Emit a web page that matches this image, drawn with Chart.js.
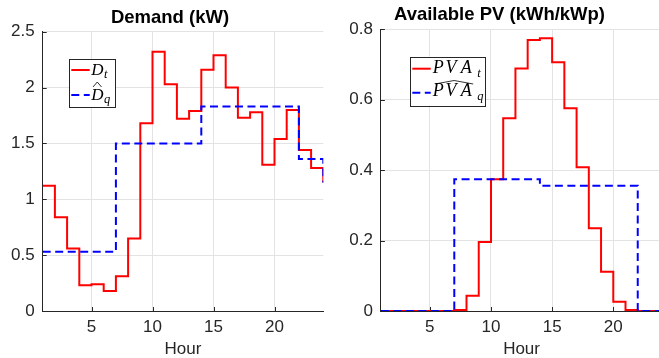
<!DOCTYPE html>
<html>
<head>
<meta charset="utf-8">
<script src="https://cdn.jsdelivr.net/npm/chart.js@4.4.0/dist/chart.umd.min.js"></script>
<style>
  html, body { margin: 0; padding: 0; background: #fff; overflow: hidden; width: 659px; height: 358px; }
  #wrap { position: relative; width: 659px; height: 358px; overflow: hidden; }
  canvas { position: absolute; top: 0; }
  #demandChart { left: 0; }
  #pvChart { left: 330px; }
</style>
</head>
<body>
<div id="wrap">
  <canvas id="demandChart" width="335" height="358"></canvas>
  <canvas id="pvChart" width="340" height="358"></canvas>
</div>
<script>
const hours = [1, 2, 3, 4, 5, 6, 7, 8, 9, 10, 11, 12, 13, 14, 15, 16, 17, 18, 19, 20, 21, 22, 23, 24];
const demand = [1.12, 0.84, 0.56, 0.23, 0.24, 0.18, 0.31, 0.65, 1.68, 2.32, 2.03, 1.72,
                1.79, 2.16, 2.29, 2.00, 1.73, 1.78, 1.31, 1.54, 1.80, 1.44, 1.28, 1.15];
const demandAvg = [0.53, 0.53, 0.53, 0.53, 0.53, 0.53, 1.50, 1.50, 1.50, 1.50, 1.50, 1.50,
                   1.50, 1.83, 1.83, 1.83, 1.83, 1.83, 1.83, 1.83, 1.83, 1.36, 1.36, 1.15];
const pvAvail = [0, 0, 0, 0, 0, 0, 0.003, 0.043, 0.196, 0.374, 0.547, 0.688,
                 0.769, 0.774, 0.706, 0.575, 0.408, 0.235, 0.111, 0.026, 0.003, 0, 0, 0];
const pvAvg = [0, 0, 0, 0, 0, 0, 0.374, 0.374, 0.374, 0.374, 0.374, 0.374,
               0.374, 0.355, 0.355, 0.355, 0.355, 0.355, 0.355, 0.355, 0.355, 0, 0, 0];
const hourTicks = [5, 10, 15, 20];
const demandTicks = [0, 0.5, 1, 1.5, 2, 2.5];
const pvTicks = [0, 0.2, 0.4, 0.6, 0.8];

const sans = '"Liberation Sans", Arial, Helvetica, sans-serif';
const serif = '"Liberation Serif", "Times New Roman", serif';
const textColor = '#262626';
const axisColor = '#262626';
const gridColor = '#e3e3e3';
const red = '#ff0000';
const blue = '#0000ff';
const dash = [8, 4.5];

// titles, inward tick marks and the latex style legend box
const decor = {
  id: 'decor',
  beforeDatasetsDraw(chart) {
    const { ctx, chartArea: a, scales } = chart;
    ctx.save();
    ctx.strokeStyle = axisColor;
    ctx.lineWidth = 1;
    ctx.beginPath();
    scales.x.ticks.forEach(t => {
      const px = Math.round(scales.x.getPixelForValue(t.value)) + 0.5;
      ctx.moveTo(px, a.bottom);
      ctx.lineTo(px, a.bottom - 4);
    });
    scales.y.ticks.forEach(t => {
      const py = Math.round(scales.y.getPixelForValue(t.value)) + 0.5;
      ctx.moveTo(a.left, py);
      ctx.lineTo(a.left + 4, py);
    });
    ctx.stroke();
    ctx.restore();
  },
  afterDraw(chart, args, opts) {
    const ctx = chart.ctx;
    ctx.save();
    ctx.fillStyle = '#000';
    ctx.font = 'bold 18.5px ' + sans;
    ctx.textAlign = 'center';
    ctx.textBaseline = 'alphabetic';
    ctx.fillText(opts.title, opts.titleX, opts.titleY);

    const lg = opts.legend;
    ctx.fillStyle = '#fff';
    ctx.fillRect(lg.x, lg.y, lg.w, lg.h);
    ctx.strokeStyle = axisColor;
    ctx.lineWidth = 1;
    ctx.strokeRect(Math.round(lg.x) + 0.5, Math.round(lg.y) + 0.5, Math.round(lg.w), Math.round(lg.h));

    lg.rows.forEach(r => {
      ctx.beginPath();
      ctx.strokeStyle = r.color;
      ctx.lineWidth = 2;
      ctx.setLineDash(r.dash || []);
      ctx.moveTo(lg.x + 2.3, lg.y + r.lineY);
      ctx.lineTo(lg.x + 20.7, lg.y + r.lineY);
      ctx.stroke();
      ctx.setLineDash([]);

      const tx = lg.x + lg.textX;
      const by = lg.y + r.baseline;
      ctx.fillStyle = '#000';
      ctx.textAlign = 'left';
      ctx.font = 'italic ' + lg.size + 'px ' + serif;
      r.letters.forEach(([ch, dx]) => ctx.fillText(ch, tx + dx, by));
      ctx.font = 'italic 12.5px ' + serif;
      ctx.fillText(r.sub[0], tx + r.sub[1], by + 3.5);
      if (r.hat) {
        ctx.beginPath();
        ctx.strokeStyle = '#000';
        ctx.lineWidth = 0.8;
        ctx.moveTo(tx + r.hat[0], by - r.hat[2]);
        ctx.lineTo(tx + (r.hat[0] + r.hat[1]) / 2, by - r.hat[3]);
        ctx.lineTo(tx + r.hat[1], by - r.hat[2]);
        ctx.stroke();
      }
    });
    ctx.restore();
  }
};

function makeScales(yTicks, yMax, yWidth) {
  return {
    x: {
      type: 'linear',
      min: 1,
      max: 24,
      afterBuildTicks: s => { s.ticks = hourTicks.map(v => ({ value: v })); },
      afterFit: s => { s.height = 47; },
      grid: { color: gridColor, drawTicks: false },
      border: { display: true, color: axisColor, width: 1 },
      ticks: { color: textColor, font: { family: sans, size: 17 }, padding: 6, maxRotation: 0, autoSkip: false },
      title: { display: true, text: 'Hour', color: textColor, font: { family: sans, size: 17, lineHeight: 1 }, padding: 0 }
    },
    y: {
      min: 0,
      max: yMax,
      afterBuildTicks: s => { s.ticks = yTicks.map(v => ({ value: v })); },
      afterFit: s => { s.width = yWidth; },
      grid: { color: gridColor, drawTicks: false },
      border: { display: true, color: axisColor, width: 1 },
      ticks: { color: textColor, font: { family: sans, size: 17 }, padding: 8, autoSkip: false, callback: v => String(v) }
    }
  };
}

function stairs(values, color, dashed, order) {
  return {
    data: hours.map((h, i) => ({ x: h, y: values[i] })),
    borderColor: color,
    borderWidth: 2,
    borderDash: dashed ? dash : [],
    stepped: true,
    pointRadius: 0,
    fill: false,
    order: order
  };
}

new Chart(document.getElementById('demandChart'), {
  type: 'line',
  data: { datasets: [stairs(demand, red, false, 1), stairs(demandAvg, blue, true, 0)] },
  options: {
    responsive: false,
    animation: false,
    events: [],
    layout: { padding: { left: 0, right: 11.7, top: 31.7, bottom: 0 } },
    scales: makeScales(demandTicks, 2.5, 42.7),
    plugins: {
      legend: { display: false },
      tooltip: { enabled: false },
      decor: {
        title: 'Demand (kW)', titleX: 170, titleY: 22.7,
        legend: {
          x: 69, y: 59, w: 46, h: 48, textX: 22.3, size: 17,
          rows: [
            { color: red, lineY: 11, baseline: 15.7, letters: [['D', 0]], sub: ['t', 12.6] },
            { color: blue, dash: dash, lineY: 36, baseline: 40.5, letters: [['D', 0]], sub: ['q', 12.6], hat: [1.7, 10.2, 12.5, 17.5] }
          ]
        }
      }
    }
  },
  plugins: [decor]
});

// second canvas starts at x = 330, so its legend and title use local x
new Chart(document.getElementById('pvChart'), {
  type: 'line',
  data: { datasets: [stairs(pvAvail, red, false, 1), stairs(pvAvg, blue, true, 0)] },
  options: {
    responsive: false,
    animation: false,
    events: [],
    layout: { padding: { left: 0, right: 7.8, top: 29, bottom: 0 } },
    scales: makeScales(pvTicks, 0.8, 50.9),
    plugins: {
      legend: { display: false },
      tooltip: { enabled: false },
      decor: {
        title: 'Available PV (kWh/kWp)', titleX: 169.5, titleY: 20,
        legend: {
          x: 80, y: 56.5, w: 75, h: 49, textX: 22.7, size: 18,
          rows: [
            { color: red, lineY: 12.2, baseline: 16.5, letters: [['P', 0], ['V', 12.8], ['A', 28]], sub: ['t', 44.5] },
            { color: blue, dash: dash, lineY: 36.2, baseline: 39.5, letters: [['P', 0], ['V', 12.8], ['A', 28]], sub: ['q', 44.5], hat: [2.3, 40.5, 12, 15.5] }
          ]
        }
      }
    }
  },
  plugins: [decor]
});
</script>
</body>
</html>
